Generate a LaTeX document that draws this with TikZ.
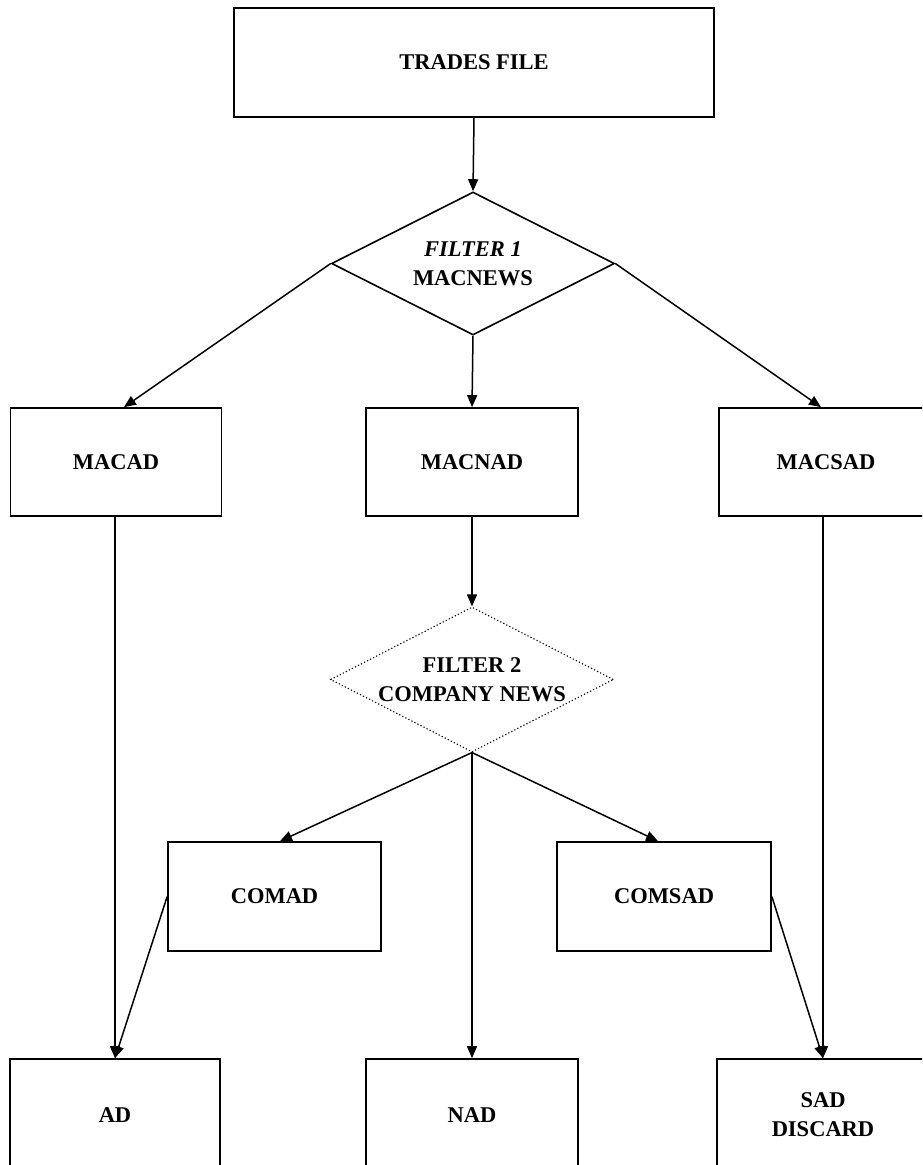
\documentclass[tikz,border=0pt]{standalone}
\usepackage{fontspec}
\setmainfont{Liberation Serif}
\usetikzlibrary{arrows.meta,shapes.geometric,calc}
\begin{document}
\begin{tikzpicture}[x=1pt,y=-1pt,
  box/.style={draw, line width=1.7pt, rectangle, inner sep=0pt, align=center,
    font=\fontsize{22.5}{29}\selectfont\bfseries},
  decision/.style={diamond, draw, inner sep=0pt, minimum width=283pt},
  lbl/.style={align=center, font=\fontsize{22.5}{29}\selectfont\bfseries},
  conn/.style={line width=1.5pt},
  arr/.style={conn, -{Triangle[length=12pt,width=10pt]}}]
\useasboundingbox (0,0) rectangle (922,1165);
\clip (0,0) rectangle (922,1165);
\fill[white] (0,0) rectangle (922,1165);

% boxes
\node[box, minimum width=480pt, minimum height=109pt] (trades) at (474,62.5) {TRADES FILE};
\node[box, minimum width=211pt, minimum height=108pt] (macad) at (116,462) {MACAD};
\node[box, minimum width=212pt, minimum height=108pt] (macnad) at (472,462) {MACNAD};
\node[box, minimum width=214pt, minimum height=108pt] (macsad) at (826,462) {MACSAD};
\node[box, minimum width=213pt, minimum height=109pt] (comad) at (274.5,896.5) {COMAD};
\node[box, minimum width=214pt, minimum height=109pt] (comsad) at (664,896.5) {COMSAD};
\node[box, minimum width=210pt, minimum height=112pt] (ad) at (115,1115) {AD};
\node[box, minimum width=212pt, minimum height=112pt] (nad) at (472,1115) {NAD};
\node[box, minimum width=212pt, minimum height=112pt] (sad) at (823,1115) {SAD\\DISCARD};

% decisions
\node[decision, line width=1.6pt, minimum height=143pt] (f1) at (473,263.5) {};
\node[lbl] at (f1) {\textit{FILTER 1}\\MACNEWS};
\node[decision, line width=1.1pt, dash pattern=on 1.2pt off 2.2pt, minimum height=145pt] (f2) at (472,679.5) {};
\node[lbl] at (f2) {FILTER 2\\COMPANY NEWS};

% connectors
\draw[arr] (trades.south) -- (f1.north);
\draw[arr] (f1.west) -- ($(macad.north)+(8,0)$);
\draw[arr] (f1.south) -- (macnad.north);
\draw[arr] (f1.east) -- ($(macsad.north)+(-5,0)$);
\draw[arr] (macnad.south) -- (f2.north);
\draw[arr] (f2.south) -- ($(comad.north)+(5.5,0)$);
\draw[arr] (f2.south) -- (nad.north);
\draw[arr] (f2.south) -- ($(comsad.north)+(-6,0)$);
\draw[arr] (macad.south -| ad.north) -- (ad.north);
\draw[arr] (comad.west) -- (ad.north);
\draw[arr] (macsad.south -| sad.north) -- (sad.north);
\draw[arr] (comsad.east) -- (sad.north);
\end{tikzpicture}
\end{document}
